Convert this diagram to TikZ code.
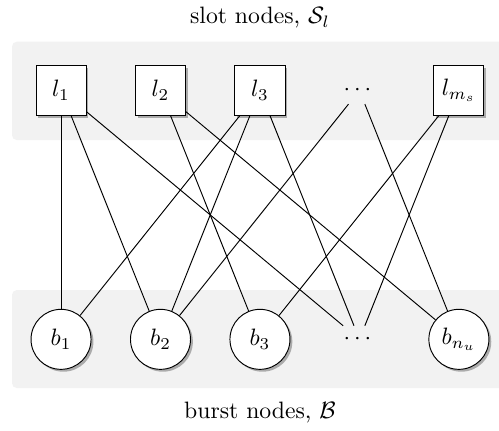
\documentclass[tikz,border=0pt]{standalone}
\usetikzlibrary{positioning, shadows}
\usepackage{amsmath}
\usepackage{amssymb}
\definecolor{bandgray}{RGB}{242, 242, 242}

\begin{document}
\begin{tikzpicture}[
    shadowed/.style={drop shadow={shadow xshift=1pt, shadow yshift=-1pt, fill=black!60, opacity=0.5}},
    band/.style={fill=bandgray, rounded corners=2pt},
    slotnode/.style={rectangle, draw=black, fill=white, minimum size=0.742cm, inner sep=0pt, shadowed},
    burstnode/.style={circle, draw=black, fill=white, minimum size=0.89cm, inner sep=0pt, shadowed},
    dotsnode/.style={inner sep=0.333em},
    edge/.style={draw=black, line width=0.4pt}
]
    \useasboundingbox (0, 0) rectangle (7.40, 6.377);

    % =========================================================================
    % BACKGROUND BANDS
    % =========================================================================
    \begin{scope}
        \clip (0, 0) rectangle (7.40, 6.377);
        \fill[band] (0.178, 4.30) rectangle (7.53, 5.758);
        \fill[band] (0.178, 0.623) rectangle (7.53, 2.076);
    \end{scope}

    % =========================================================================
    % SLOT NODES (top row)
    % =========================================================================
    \node[slotnode] (l1) at (0.905, 5.035) {$l_1$};
    \node[slotnode] (l2) at (2.380, 5.035) {$l_2$};
    \node[slotnode] (l3) at (3.855, 5.035) {$l_3$};
    \node[dotsnode] (ldots) at (5.330, 5.035) {$\cdots$};
    \node[slotnode] (lm) at (6.805, 5.035) {$l_{m_s}$};
    \node[above=0.42cm of l3] (slotlabel) {slot nodes, $\mathcal{S}_l$};

    % =========================================================================
    % BURST NODES (bottom row)
    % =========================================================================
    \node[burstnode] (b1) at (0.905, 1.345) {$b_1$};
    \node[burstnode] (b2) at (2.380, 1.345) {$b_2$};
    \node[burstnode] (b3) at (3.855, 1.345) {$b_3$};
    \node[dotsnode] (bdots) at (5.330, 1.345) {$\cdots$};
    \node[burstnode] (bn) at (6.805, 1.345) {$b_{n_u}$};
    \node[below=0.36cm of b3] (burstlabel) {burst nodes, $\mathcal{B}$};

    % Edges between slots and bursts
    \foreach \a/\b in {l1/b1, l1/b2, l1/bdots, l2/b3, l2/bn, l3/b1, l3/b2, l3/bdots,
                       ldots/b2, ldots/bn, lm/b3, lm/bdots} {
        \draw[edge] (\a) -- (\b);
    }

\end{tikzpicture}
\end{document}
